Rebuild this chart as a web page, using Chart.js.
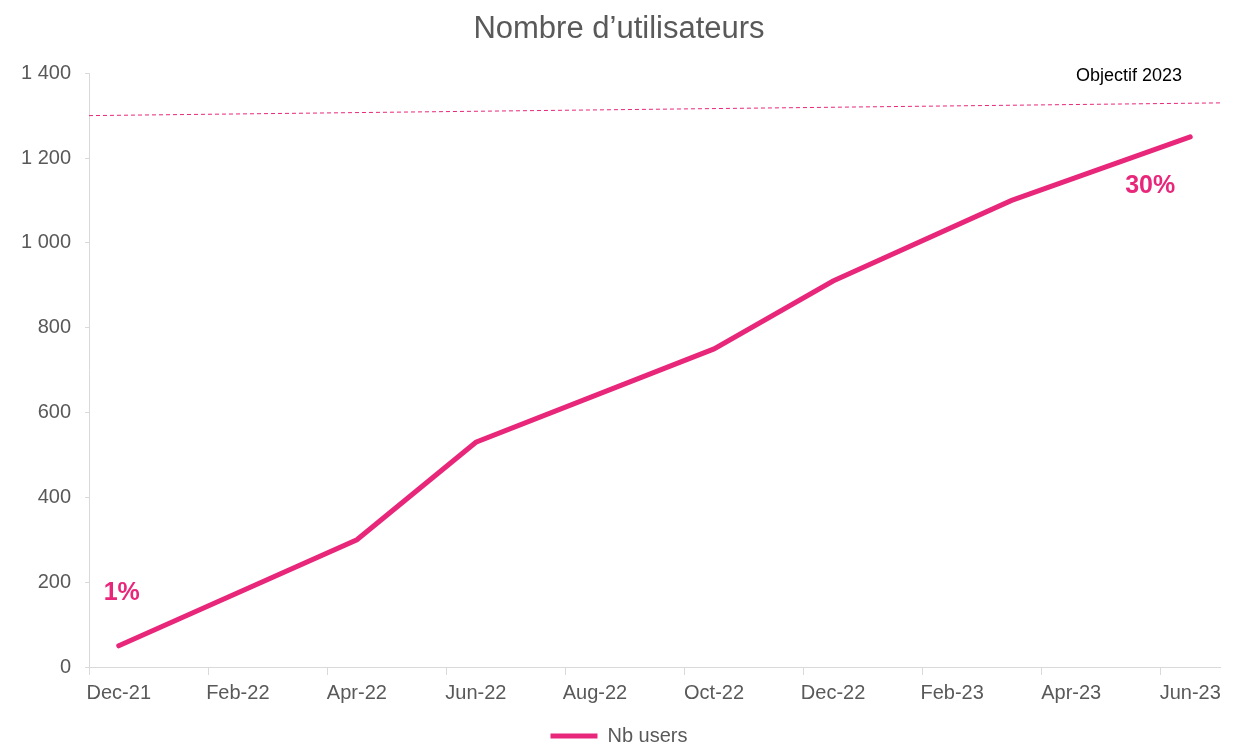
<!DOCTYPE html>
<html>
<head>
<meta charset="utf-8">
<script src="https://cdn.jsdelivr.net/npm/chart.js@4"></script>
<style>
    html, body { margin: 0; padding: 0; background: #fff; }
    #wrap { width: 1245px; height: 746px; }
</style>
</head>
<body>
<div id="wrap"><canvas id="usersChart" width="1245" height="746"></canvas></div>
<script>
// Monthly categories (one band per month, labels shown every 2 months)
const months = ['Dec-21', 'Jan-22', 'Feb-22', 'Mar-22', 'Apr-22', 'May-22', 'Jun-22', 'Jul-22',
    'Aug-22', 'Sep-22', 'Oct-22', 'Nov-22', 'Dec-22', 'Jan-23', 'Feb-23', 'Mar-23',
    'Apr-23', 'May-23', 'Jun-23'];
const nbUsers = [50, null, null, null, 300, null, 530, null, null, null, 750, null, 910,
    null, null, 1100, null, null, 1250];

// Objective line, from axis start to axis end
const targetLabels = ['start', 'end'];
const targetValues = [1300, 1330];

const yTicks = [0, 200, 400, 600, 800, 1000, 1200, 1400];

// Percent notes attached to points
const notes = [
    { index: 0, text: '1%', dx: 3, dy: -53 },
    { index: 18, text: '30%', dx: -40, dy: 49 }
];

const pink = '#E8277B';
const grey = '#595959';
const axisGrey = '#D9D9D9';
const font = "'Liberation Sans', Arial, sans-serif";

const annotations = {
    id: 'annotations',
    afterDatasetsDraw(chart) {
        const { ctx, scales, chartArea } = chart;
        const x = scales.x, y = scales.y;
        ctx.save();
        ctx.fillStyle = pink;
        ctx.font = `bold 25px ${font}`;
        ctx.textAlign = 'center';
        ctx.textBaseline = 'middle';
        notes.forEach(n => {
            ctx.fillText(n.text, x.getPixelForValue(n.index) + n.dx, y.getPixelForValue(nbUsers[n.index]) + n.dy);
        });
        ctx.fillStyle = '#000';
        ctx.font = `18px ${font}`;
        ctx.fillText('Objectif 2023', chartArea.right - 91, chartArea.top + 3);
        ctx.restore();
    }
};

new Chart(document.getElementById('usersChart'), {
    type: 'line',
    data: {
        labels: months,
        datasets: [
            {
                label: 'Nb users',
                data: nbUsers,
                borderColor: pink,
                backgroundColor: pink,
                borderWidth: 5,
                pointRadius: 0,
                spanGaps: true,
                tension: 0,
                borderCapStyle: 'round',
                xAxisID: 'x'
            },
            {
                label: 'Objectif',
                data: targetValues,
                borderColor: pink,
                borderWidth: 1,
                borderDash: [4, 3],
                pointRadius: 0,
                xAxisID: 'x2'
            }
        ]
    },
    options: {
        responsive: false,
        animation: false,
        // left padding only nudges the legend; the y axis width keeps the plot at x=89
        layout: { padding: { left: 18, right: 25, top: 0, bottom: -10 } },
        plugins: {
            title: {
                display: true,
                text: 'Nombre d\u2019utilisateurs',
                color: grey,
                font: { family: font, size: 31, weight: 'normal' },
                padding: { top: 11, bottom: 25 }
            },
            legend: {
                position: 'bottom',
                labels: {
                    filter: item => item.text === 'Nb users',
                    usePointStyle: true,
                    pointStyle: 'line',
                    pointStyleWidth: 47,
                    color: grey,
                    font: { family: font, size: 20 },
                    padding: 0
                }
            },
            tooltip: { enabled: false }
        },
        scales: {
            x: {
                type: 'category',
                offset: true,
                afterFit: s => { s.height = 59; },
                grid: {
                    offset: true,
                    drawOnChartArea: false,
                    tickLength: 8,
                    color: c => (c.index !== undefined && c.index % 2 === 0) ? axisGrey : 'rgba(0,0,0,0)'
                },
                border: { color: axisGrey, width: 1 },
                ticks: {
                    autoSkip: false,
                    maxRotation: 0,
                    color: grey,
                    font: { family: font, size: 20 },
                    padding: 6,
                    callback: (v, i) => i % 2 === 0 ? months[i] : ''
                }
            },
            x2: {
                type: 'category',
                labels: targetLabels,
                offset: false,
                display: false
            },
            y: {
                min: 0,
                max: 1400,
                afterBuildTicks: s => { s.ticks = yTicks.map(v => ({ value: v })); },
                afterFit: s => { s.width = 71; },
                grid: { drawOnChartArea: false, tickLength: 4, color: axisGrey },
                border: { color: axisGrey, width: 1 },
                ticks: {
                    color: grey,
                    font: { family: font, size: 20 },
                    padding: 14,
                    callback: v => v.toLocaleString('fr-FR').replace(/\s/g, ' ')
                }
            }
        }
    },
    plugins: [annotations]
});
</script>
</body>
</html>
